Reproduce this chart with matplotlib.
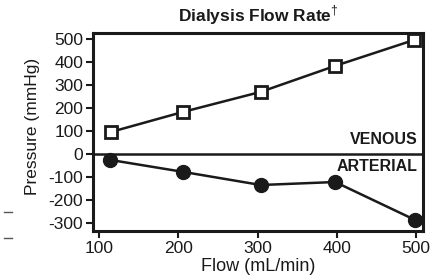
import matplotlib
matplotlib.use('Agg')
import matplotlib.pyplot as plt
from matplotlib.lines import Line2D

plt.rcParams['font.family'] = ['Liberation Sans', 'DejaVu Sans']
plt.rcParams['mathtext.fontset'] = 'custom'
plt.rcParams['mathtext.rm'] = 'Liberation Sans'
plt.rcParams['mathtext.bf'] = 'Liberation Sans:bold'

flow_venous = [115, 206, 304, 398, 498]
venous = [96, 183, 270, 383, 496]
flow_arterial = [114, 206, 304, 398, 499]
arterial = [-26, -78, -135, -122, -287]

ink = '#1a1a1a'

fig = plt.figure(figsize=(4.47, 2.79), dpi=100)
ax = fig.add_axes([93 / 447, 1 - 231 / 279, 330 / 447, 198 / 279])

ax.plot(flow_venous, venous, color=ink, lw=1.8, marker='s', ms=8,
        mfc='white', mec=ink, mew=2)
ax.plot(flow_arterial, arterial, color=ink, lw=1.8, marker='o', ms=10,
        mfc=ink, mec=ink)
ax.axhline(0, color=ink, lw=1.8)

ax.set_xlim(92, 509)
ax.set_ylim(-335, 526)
ax.set_xticks([100, 200, 300, 400, 500])
ax.set_yticks([500, 400, 300, 200, 100, 0, -100, -200, -300])
ax.set_yticklabels(['500', '400', '300', '200', '100', '0', '-100', '-200', '-300'])
ax.tick_params(direction='out', length=5, width=1.5, labelsize=12.5, pad=2,
               colors=ink)
for s in ax.spines.values():
    s.set_linewidth(2.2)
    s.set_color(ink)

ax.set_xlabel('Flow (mL/min)', fontsize=13, color=ink)
ax.xaxis.set_label_coords(0.5, -0.135)
ax.set_ylabel('Pressure (mmHg)', fontsize=12.5, color=ink)
ax.yaxis.set_label_coords(-0.16, 0.53)
ax.set_title('Dialysis Flow Rate$^{\\dagger}$', fontsize=12.5, fontweight='bold',
             pad=8, color=ink)

ax.text(502, 32, 'VENOUS', ha='right', va='bottom', fontsize=11.5,
        fontweight='bold', color=ink)
ax.text(502, -20, 'ARTERIAL', ha='right', va='top', fontsize=11.5,
        fontweight='bold', color=ink)

# small marks at the left edge
for yy in [212, 238]:
    fig.add_artist(Line2D([4 / 447, 12 / 447], [1 - yy / 279, 1 - yy / 279],
                          color='#555555', lw=1))

fig.savefig('out.png', dpi=100)
